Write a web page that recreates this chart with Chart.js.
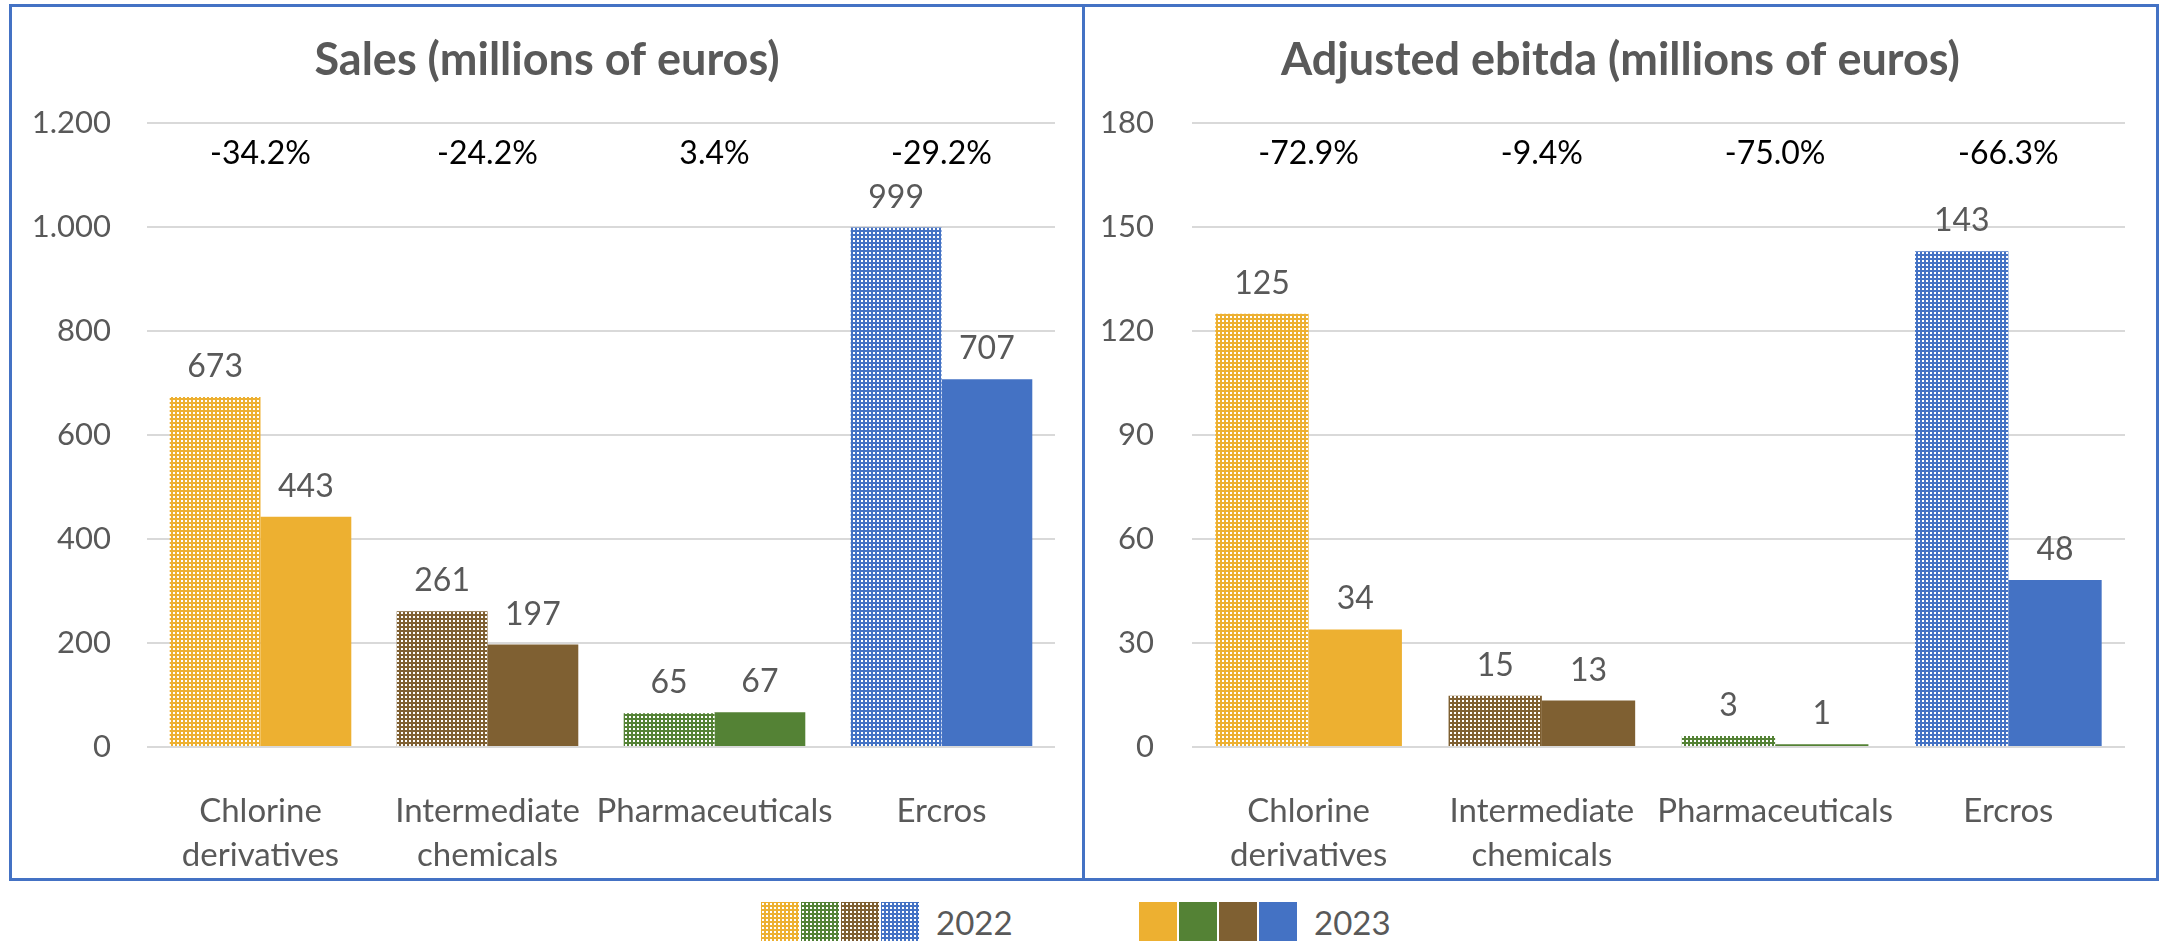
<!DOCTYPE html>
<html>
<head>
<meta charset="utf-8">
<script src="https://cdn.jsdelivr.net/npm/chart.js@4"></script>
<style>
  body { margin: 0; width: 2160px; height: 941px; overflow: hidden; background: #fff; font-family: Lato, sans-serif; }
  .panel { position: absolute; top: 4px; height: 877px; border: 3px solid #4472C4; box-sizing: border-box; }
  #leftPanel { left: 9px; width: 1076px; }
  #rightPanel { left: 1082px; width: 1077px; }
  .panel canvas { display: block; }
  .legend { position: absolute; top: 902px; height: 40px; display: flex; align-items: flex-start; }
  .legend canvas { width: 38px; height: 40px; margin-right: 2px; }
  .legend span { font-size: 33px; color: #595959; margin-left: 15px; line-height: 40px; }
</style>
</head>
<body>
<div class="panel" id="leftPanel"><canvas id="salesChart" width="1070" height="871"></canvas></div>
<div class="panel" id="rightPanel"><canvas id="ebitdaChart" width="1071" height="871"></canvas></div>
<div class="legend" id="legend2022" style="left:761px"></div>
<div class="legend" id="legend2023" style="left:1139px"></div>

<script>
const categories = [['Chlorine', 'derivatives'], ['Intermediate', 'chemicals'], ['Pharmaceuticals'], ['Ercros']];
const years = ['2022', '2023'];

const sales2022 = [673, 261, 65, 999];
const sales2023 = [443, 197, 67, 707];
const salesChange = ['-34.2%', '-24.2%', '3.4%', '-29.2%'];
const salesTicks = { max: 1200, step: 200 };

const ebitda2022 = [125, 14.8, 3.2, 143];
const ebitda2023 = [33.9, 13.4, 0.8, 48.2];
const ebitdaChange = ['-72.9%', '-9.4%', '-75.0%', '-66.3%'];
const ebitdaTicks = { max: 180, step: 30 };

// orange, brown, green, blue (same order as categories)
const segmentColors = ['#EDB031', '#7F6032', '#548235', '#4472C4'];
const legendOrder = [0, 2, 1, 3];

const gray = '#595959';
const gridColor = '#D9D9D9';

// white dotted grid like the excel fill
function makePattern(color) {
  const c = document.createElement('canvas');
  c.width = 4; c.height = 4;
  const g = c.getContext('2d');
  g.fillStyle = color;
  g.fillRect(0, 0, 4, 4);
  g.fillStyle = '#fff';
  g.fillRect(1, 1, 2, 2);
  return g.createPattern(c, 'repeat');
}

function thousands(v) {
  return String(v).replace(/\B(?=(\d{3})+(?!\d))/g, '.');
}

// title centred on the whole panel, value labels, % change row
const chartTexts = {
  id: 'chartTexts',
  afterDatasetsDraw(chart, args, opts) {
    const { ctx, chartArea } = chart;
    ctx.save();
    ctx.textAlign = 'center';
    ctx.textBaseline = 'middle';
    ctx.font = 'bold 45px Lato';
    ctx.fillStyle = gray;
    ctx.fillText(opts.title, chart.width / 2, 53);

    ctx.textBaseline = 'alphabetic';
    ctx.font = '32px Lato';
    chart.data.datasets.forEach((ds, i) => {
      chart.getDatasetMeta(i).data.forEach((bar, j) => {
        ctx.fillText(Math.round(ds.data[j]), bar.x, bar.y - 20);
      });
    });
    ctx.fillStyle = '#000';
    const xs = chart.scales.x;
    opts.changes.forEach((t, j) => {
      ctx.fillText(t, xs.getPixelForValue(j), chartArea.top + 41);
    });
    ctx.restore();
  }
};

function buildChart(id, title, d2022, d2023, changes, ticks, padRight, yWidth, yPad) {
  new Chart(document.getElementById(id), {
    type: 'bar',
    data: {
      labels: categories,
      datasets: [
        { label: years[0], data: d2022, backgroundColor: segmentColors.map(makePattern) },
        { label: years[1], data: d2023, backgroundColor: segmentColors }
      ]
    },
    options: {
      responsive: false,
      animation: false,
      layout: { padding: { left: 0, right: padRight, top: 116, bottom: 0 } },
      datasets: { bar: { categoryPercentage: 0.8, barPercentage: 1.0, borderWidth: 0 } },
      plugins: {
        legend: { display: false },
        tooltip: { enabled: false },
        title: { display: false },
        chartTexts: { title: title, changes: changes }
      },
      scales: {
        x: {
          grid: { display: false },
          border: { display: false },
          ticks: {
            color: gray,
            font: { family: 'Lato', size: 33, lineHeight: 1.32 },
            padding: 35,
            maxRotation: 0,
            autoSkip: false
          },
          afterFit(scale) { scale.height = 131; }
        },
        y: {
          min: 0,
          max: ticks.max,
          border: { display: false },
          grid: { color: gridColor, lineWidth: 2, drawTicks: false },
          ticks: {
            stepSize: ticks.step,
            color: gray,
            font: { family: 'Lato', size: 31 },
            padding: yPad,
            callback: (v) => thousands(v)
          },
          afterFit(scale) { scale.width = yWidth; }
        }
      }
    },
    plugins: [chartTexts]
  });
}

buildChart('salesChart', 'Sales (millions of euros)', sales2022, sales2023, salesChange, salesTicks, 27, 135, 36);
buildChart('ebitdaChart', 'Adjusted ebitda (millions of euros)', ebitda2022, ebitda2023, ebitdaChange, ebitdaTicks, 31, 107, 38);

// legend: four swatches per year
years.forEach((year, k) => {
  const box = document.getElementById('legend' + year);
  legendOrder.forEach((idx) => {
    const c = document.createElement('canvas');
    c.width = 38; c.height = 40;
    const g = c.getContext('2d');
    g.fillStyle = k === 0 ? makePattern(segmentColors[idx]) : segmentColors[idx];
    g.fillRect(0, 0, 38, 40);
    box.appendChild(c);
  });
  const s = document.createElement('span');
  s.textContent = year;
  box.appendChild(s);
});
</script>
</body>
</html>
